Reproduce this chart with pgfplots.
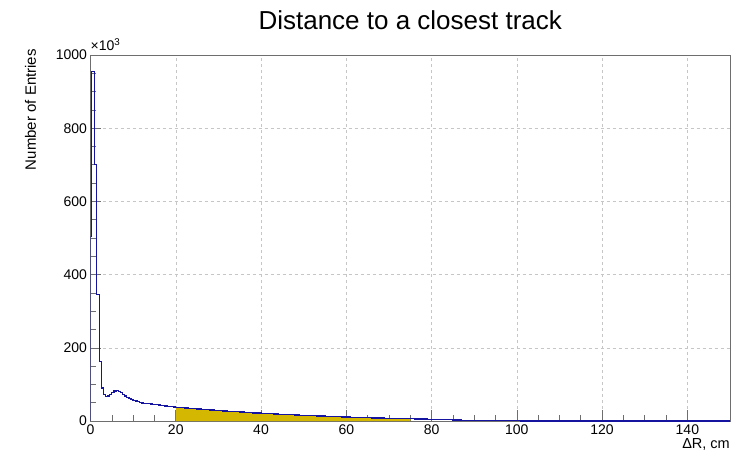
\documentclass[border=0pt]{standalone}
\usepackage{pgfplots}
\pgfplotsset{compat=1.18}
\usepackage{fontspec}
\setmainfont{Liberation Sans}
\definecolor{histline}{RGB}{20,20,160}
\definecolor{histfill}{RGB}{212,183,0}
\definecolor{axgray}{RGB}{110,110,110}
\begin{document}
\begin{tikzpicture}
\path[use as bounding box] (-90.5bp,-30bp) rectangle (655.5bp,421bp);
\begin{axis}[
  at={(0,0)}, anchor=south west,
  width=639.5bp, height=366bp, scale only axis=true,
  xmin=0, xmax=150, ymin=0, ymax=1000,
  xtick={0,20,...,140}, ytick={0,200,...,1000},
  minor x tick num=3, minor y tick num=3,
  tick pos=left, tick align=inside,
  major tick length=11bp, minor tick length=5.5bp,
  every tick/.style={axgray, line width=0.6bp},
  axis line style={axgray, line width=0.7bp},
  grid=major,
  major grid style={gray!45, line width=0.5bp, dash pattern=on 3bp off 3bp},
  /pgf/number format/assume math mode=true,
  /pgf/number format/1000 sep={},
  tick label style={font=\fontsize{14bp}{16bp}\selectfont},
  clip=true,
]
% filled region 20--75
\addplot[const plot, draw=none, fill=histfill] coordinates {
(20,37.5) (21,36.5) (22,35.5) (23,34.5) (24,33.5) (25,32.5) (26,31.5) (27,30.6)
(28,29.8) (29,29.0) (30,28.2) (31,27.4) (32,26.6) (33,25.8) (34,25.1) (35,24.3)
(36,23.6) (37,22.9) (38,22.2) (39,21.6) (40,21.0) (41,20.4) (42,19.8) (43,19.2)
(44,18.6) (45,18.0) (46,17.5) (47,16.9) (48,16.4) (49,15.9) (50,15.4) (51,14.9)
(52,14.4) (53,13.9) (54,13.4) (55,13.0) (56,12.5) (57,12.0) (58,11.6) (59,11.2)
(60,10.8) (61,10.4) (62,10.0) (63,9.6) (64,9.3) (65,8.9) (66,8.6) (67,8.3)
(68,8.0) (69,7.7) (70,7.4) (71,7.1) (72,6.8) (73,6.5) (74,6.3) (75,6.3)
} \closedcycle;
% histogram outline
\addplot[const plot, histline, line width=1.3bp] coordinates {
(0,0) (0,505) (0.28,955) (0.9,700) (1.45,345) (2.1,162) (2.53,90) (3.0,72)
(3.5,67) (4.0,68) (4.5,73) (5.0,78) (5.5,82) (6.0,83) (6.5,81) (7.0,77)
(7.5,72) (8.0,68) (8.5,65) (9.0,62) (9.5,59) (10,56.5) (10.5,54.5) (11,52.5)
(11.5,51) (12,49.5) (12.5,48.7) (13,48) (13.5,47.2) (14,46.5) (14.5,45.7)
(15,45) (15.5,44.2) (16,43.5) (16.5,42.7) (17,42) (17.5,41.2) (18,40.5)
(18.5,39.7) (19,39) (19.5,38.2)
(20,37.5) (21,36.5) (22,35.5) (23,34.5) (24,33.5) (25,32.5) (26,31.5) (27,30.6)
(28,29.8) (29,29.0) (30,28.2) (31,27.4) (32,26.6) (33,25.8) (34,25.1) (35,24.3)
(36,23.6) (37,22.9) (38,22.2) (39,21.6) (40,21.0) (41,20.4) (42,19.8) (43,19.2)
(44,18.6) (45,18.0) (46,17.5) (47,16.9) (48,16.4) (49,15.9) (50,15.4) (51,14.9)
(52,14.4) (53,13.9) (54,13.4) (55,13.0) (56,12.5) (57,12.0) (58,11.6) (59,11.2)
(60,10.8) (61,10.4) (62,10.0) (63,9.6) (64,9.3) (65,8.9) (66,8.6) (67,8.3)
(68,8.0) (69,7.7) (70,7.4) (71,7.1) (72,6.8) (73,6.5) (74,6.3) (75,6.0)
(76,5.8) (77,5.5) (78,5.3) (79,5.0) (80,4.6) (81,4.3) (82,4.0) (83,3.7)
(84,3.4) (85,3.1) (86,2.8) (87,1.5) (90,1.3) (94,1.1) (98,0.9) (101,0.3)
(110,0.25) (120,0.2) (130,0.2) (140,0.15) (150,0.15)
};
\end{axis}
\node[anchor=base] at (319.75bp,391bp) {\fontsize{26bp}{30bp}\selectfont Distance to a closest track};
\node[anchor=base west, inner sep=0pt] at (0bp,370bp) {\fontsize{14bp}{16bp}\selectfont ×10\textsuperscript{3}};
\node[rotate=90, anchor=east, inner sep=0pt] at (-60bp,372bp) {\fontsize{15bp}{17bp}\selectfont Number of Entries};
\node[anchor=north east, inner sep=0pt] at (639.5bp,-17bp) {\fontsize{14.5bp}{16bp}\selectfont ΔR, cm};
\end{tikzpicture}
\end{document}
